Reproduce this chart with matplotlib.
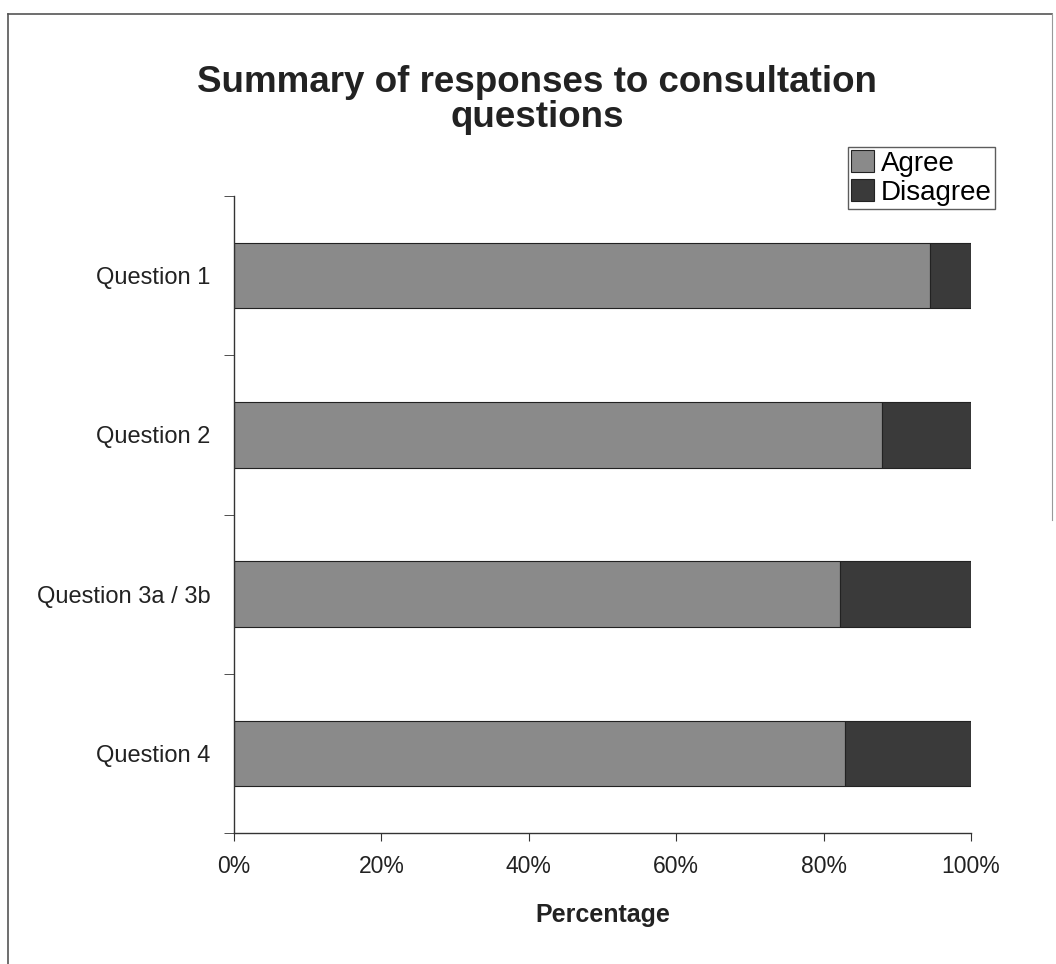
import matplotlib
matplotlib.use("Agg")
import matplotlib.pyplot as plt
from matplotlib.lines import Line2D
import numpy as np

categories = ["Question 1", "Question 2", "Question 3a / 3b", "Question 4"]
agree = [94.5, 87.9, 82.2, 82.9]
disagree = [5.5, 12.1, 17.8, 17.1]
xticks = [0, 20, 40, 60, 80, 100]
xticklabels = ["0%", "20%", "40%", "60%", "80%", "100%"]

plt.rcParams['font.family'] = ['Liberation Sans', 'DejaVu Sans']

fig = plt.figure(figsize=(10.56, 9.64), dpi=100)
ax = fig.add_axes([234/1056, 1-833/964, 737/1056, 637/964])

y = np.arange(len(categories))
ax.barh(y, agree, height=0.41, color="#8a8a8a", edgecolor="#222222", linewidth=0.8, label="Agree")
ax.barh(y, disagree, left=agree, height=0.41, color="#3a3a3a", edgecolor="#222222", linewidth=0.8, label="Disagree")

ax.set_xlim(0, 100)
ax.set_ylim(3.5, -0.5)
ax.set_xticks(xticks)
ax.set_xticklabels(xticklabels, fontsize=16.5, color="#222222")
ax.set_yticks(y)
ax.set_yticklabels(categories, fontsize=17, color="#222222")
ax.tick_params(axis='y', which='major', length=0, pad=17)
ax.set_yticks([-0.5, 0.5, 1.5, 2.5, 3.5], minor=True)
ax.tick_params(axis='y', which='minor', length=7, direction='out', color="#333333")
ax.tick_params(axis='x', length=6, direction='out', color="#333333", pad=10)
for s in ['top', 'right']:
    ax.spines[s].set_visible(False)
for s in ['left', 'bottom']:
    ax.spines[s].set_color("#333333")
    ax.spines[s].set_linewidth(1.0)

ax.set_xlabel("Percentage", fontsize=18, fontweight='bold', color="#222222", labelpad=18)

fig.text(537/1056, 1-100/964, "Summary of responses to consultation\nquestions",
         ha='center', va='center', fontsize=26.5, fontweight='bold', color="#222222",
         linespacing=0.97)

leg = ax.legend(loc='upper left', bbox_to_anchor=(848/1056, 1-147/964), bbox_transform=fig.transFigure,
                fontsize=20, frameon=True, fancybox=False, edgecolor="#333333",
                handlelength=0.8, handleheight=0.8, handletextpad=0.25, borderpad=0.12,
                labelspacing=0.1, borderaxespad=0)
leg.get_frame().set_linewidth(1.0)

# figure border lines
fig.add_artist(Line2D([8/1056, 1052/1056], [1-14/964, 1-14/964], transform=fig.transFigure, color="#555555", lw=1.2))
fig.add_artist(Line2D([8/1056, 8/1056], [1-14/964, 0], transform=fig.transFigure, color="#555555", lw=1.2))
fig.add_artist(Line2D([1052/1056, 1052/1056], [1-14/964, 1-520/964], transform=fig.transFigure, color="#999999", lw=0.8))

fig.savefig("out.png", dpi=100, facecolor="white")
